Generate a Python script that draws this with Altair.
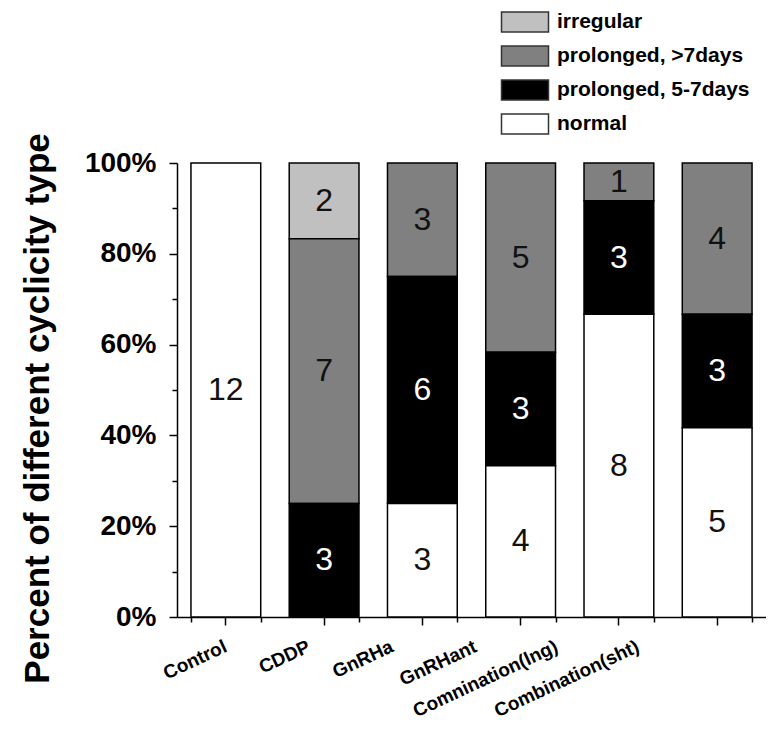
import altair as alt
import pandas as pd

# ---- data ----
groups = ["Control", "CDDP", "GnRHa", "GnRHant", "Comnination(lng)", "Combination(sht)"]
types = ["irregular", "prolonged, >7days", "prolonged, 5-7days", "normal"]
irregular = [0, 2, 0, 0, 0, 0]
prolonged_gt7 = [0, 7, 3, 5, 1, 4]
prolonged_5_7 = [0, 3, 6, 3, 3, 3]
normal = [12, 0, 3, 4, 8, 5]
y_major = [0, 0.2, 0.4, 0.6, 0.8, 1.0]
y_minor = [0.1, 0.3, 0.5, 0.7, 0.9]

# ---- styling ----
type_colors = ["#c0c0c0", "#808080", "#000000", "#ffffff"]
label_shift = [-4, -19, -34, -49, -66, -83]
FONT = "Liberation Sans"

series = {
    "irregular": irregular,
    "prolonged, >7days": prolonged_gt7,
    "prolonged, 5-7days": prolonged_5_7,
    "normal": normal,
}
stack_rank = {"normal": 0, "prolonged, 5-7days": 1, "prolonged, >7days": 2, "irregular": 3}
rows = []
for t in types:
    for g, c in zip(groups, series[t]):
        if c > 0:
            rows.append({"group": g, "type": t, "count": c, "rank": stack_rank[t]})
df = pd.DataFrame(rows)

label_offset = {
    "condition": [
        {"test": f"datum.value === '{g}'", "value": s}
        for g, s in zip(groups[1:], label_shift[1:])
    ],
    "value": label_shift[0],
}

base = (
    alt.Chart(df)
    .transform_joinaggregate(total="sum(count)", groupby=["group"])
    .transform_window(cum="sum(count)", sort=[alt.SortField("rank")], groupby=["group"])
    .transform_calculate(
        y0="(datum.cum - datum.count) / datum.total",
        y1="datum.cum / datum.total",
        mid="(datum.cum - datum.count / 2) / datum.total",
    )
)

xscale = alt.Scale(domain=groups, paddingInner=0.29, paddingOuter=0.142)
yscale = alt.Scale(domain=[0, 1], nice=False)

bars = base.mark_bar(stroke="black", strokeWidth=1.5).encode(
    x=alt.X(
        "group:N",
        sort=groups,
        scale=xscale,
        axis=alt.Axis(
            title=None,
            labelAngle=335,
            labelAlign="right",
            labelBaseline="top",
            labelFont=FONT,
            labelFontSize=19,
            labelFontWeight="bold",
            labelColor="black",
            labelOffset=label_offset,
            labelPadding=12,
            labelLimit=300,
            tickSize=8,
            tickColor="black",
            tickWidth=1.5,
            domainColor="black",
            domainWidth=1.5,
            grid=False,
        ),
    ),
    y=alt.Y(
        "y0:Q",
        scale=yscale,
        axis=alt.Axis(
            values=y_major,
            format=".0%",
            labelFont=FONT,
            labelFontSize=28,
            labelFontWeight="bold",
            labelColor="black",
            labelPadding=13,
            tickSize=8,
            tickColor="black",
            tickWidth=1.5,
            domainColor="black",
            domainWidth=1.5,
            grid=False,
            title="Percent of different cyclicity type",
            titleFont=FONT,
            titleFontSize=35,
            titleFontWeight="bold",
            titleColor="black",
            titleAngle=270,
            titleAlign="center",
            titleBaseline="middle",
            titleX=-140,
            titleY=245,
        ),
    ),
    y2="y1:Q",
    color=alt.Color(
        "type:N",
        scale=alt.Scale(domain=types, range=type_colors),
        legend=alt.Legend(
            title=None,
            orient="none",
            legendX=337,
            legendY=-152,
            symbolType="M-2.35,-1H2.35V1H-2.35Z",
            symbolSize=400,
            symbolStrokeColor="#333333",
            symbolStrokeWidth=1.5,
            symbolOpacity=1,
            labelFont=FONT,
            labelFontSize=21,
            labelFontWeight="bold",
            labelColor="black",
            labelOffset=21,
            labelLimit=400,
            rowPadding=8,
        ),
    ),
)

texts = base.mark_text(font=FONT, fontSize=32, baseline="middle").encode(
    x=alt.X(
        "group:N",
        sort=groups,
        scale=xscale,
        axis=alt.Axis(
            orient="bottom",
            title=None,
            labels=False,
            domain=False,
            tickBand="extent",
            tickSize=5,
            tickColor="black",
            tickWidth=1.5,
            grid=False,
        ),
    ),
    y=alt.Y(
        "mid:Q",
        scale=yscale,
        axis=alt.Axis(
            orient="left",
            values=y_minor,
            labels=False,
            domain=False,
            tickSize=5,
            tickColor="black",
            tickWidth=1.5,
            grid=False,
            title=None,
        ),
    ),
    text="count:Q",
    color=alt.condition(
        alt.datum.type == "prolonged, 5-7days", alt.value("white"), alt.value("#111111")
    ),
)

chart = (
    alt.layer(bars, texts)
    .resolve_axis(x="independent", y="independent")
    .properties(
        width=589,
        height=454,
        autosize=alt.AutoSizeParams(type="none"),
        padding={"left": 169, "top": 155, "right": 0, "bottom": 111},
        background="white",
    )
    .configure_view(strokeWidth=0)
)

chart.save("out.html", embed_options={"renderer": "svg", "actions": False})
